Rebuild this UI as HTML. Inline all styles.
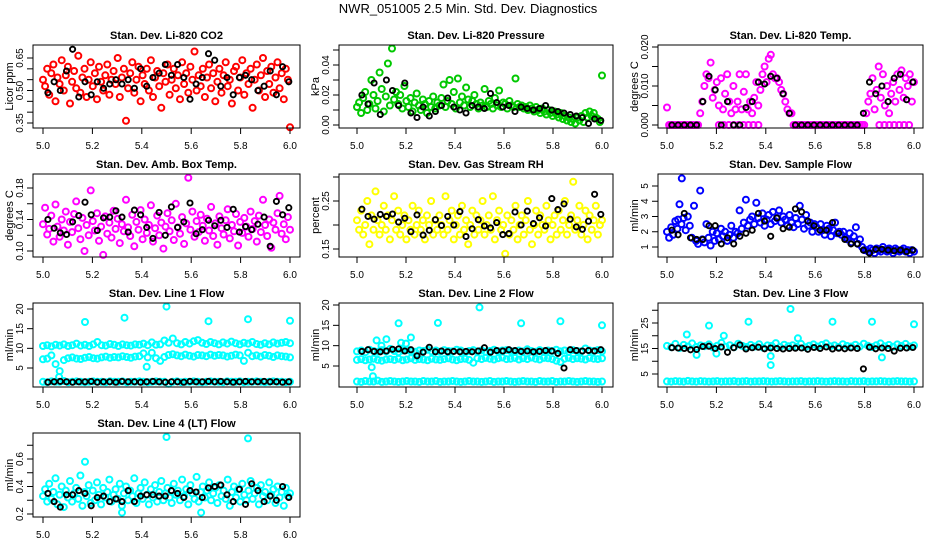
<!DOCTYPE html>
<html><head><meta charset="utf-8"><style>
body{margin:0;background:#fff;}
svg{display:block;font-family:"Liberation Sans",sans-serif;}
</style></head><body>
<svg id="chart" width="936" height="540" viewBox="0 0 936 540">
<rect x="0" y="0" width="936" height="540" fill="#fff"/>
<text x="468" y="13" text-anchor="middle" font-size="13">NWR_051005  2.5 Min. Std. Dev. Diagnostics</text>
</svg>
<script>
// ---------- data ----------
const xTicks=[5.0,5.2,5.4,5.6,5.8,6.0];
const xTickLabels=["5.0","5.2","5.4","5.6","5.8","6.0"];

const co2Red=[0.55,0.52,0.60,0.48,0.58,0.62,0.45,0.56,0.53,0.64,0.50,0.57,0.61,0.44,0.54,0.59,0.51,0.66,0.49,0.56,
0.60,0.47,0.55,0.63,0.52,0.58,0.46,0.61,0.54,0.50,0.57,0.62,0.48,0.55,0.59,0.53,0.65,0.47,0.56,0.60,
0.36,0.51,0.58,0.63,0.49,0.55,0.61,0.45,0.57,0.53,0.60,0.50,0.64,0.47,0.56,0.59,0.52,0.42,0.58,0.54,
0.62,0.48,0.55,0.60,0.51,0.57,0.46,0.63,0.53,0.58,0.49,0.61,0.55,0.68,0.50,0.57,0.52,0.60,0.47,0.56,
0.62,0.51,0.58,0.45,0.54,0.60,0.49,0.57,0.63,0.52,0.55,0.44,0.59,0.61,0.50,0.56,0.64,0.48,0.58,0.53,
0.60,0.42,0.55,0.62,0.50,0.57,0.65,0.47,0.59,0.53,0.61,0.49,0.56,0.63,0.51,0.58,0.46,0.60,0.55,0.33];
const co2Black=[0.49,0.54,0.50,0.59,0.69,0.47,0.54,0.48,0.54,0.51,0.53,0.55,0.53,0.55,0.51,0.60,0.52,0.56,0.58,0.62,0.57,0.62,0.56,0.46,0.53,0.56,0.67,0.64,0.52,0.56,0.48,0.56,0.57,0.55,0.50,0.52,0.59,0.48,0.61,0.54];
const co2Ticks=[0.35,0.40,0.45,0.50,0.55,0.60,0.65];
const co2TickLabels=["0.35","","","0.50","","","0.65"];

const presGreen=[0.012,0.015,0.008,0.018,0.022,0.010,0.014,0.030,0.020,0.011,0.016,0.035,0.024,0.009,0.019,0.041,0.013,0.051,0.017,0.022,
0.014,0.020,0.011,0.026,0.016,0.012,0.018,0.009,0.015,0.021,0.013,0.010,0.017,0.014,0.008,0.016,0.012,0.019,0.011,0.015,
0.013,0.018,0.027,0.012,0.016,0.030,0.014,0.022,0.011,0.031,0.015,0.019,0.013,0.025,0.017,0.012,0.016,0.020,0.014,0.011,
0.015,0.013,0.024,0.012,0.016,0.014,0.011,0.018,0.013,0.023,0.012,0.015,0.014,0.011,0.016,0.013,0.012,0.031,0.014,0.012,
0.013,0.011,0.012,0.010,0.013,0.011,0.009,0.012,0.010,0.008,0.011,0.009,0.007,0.010,0.008,0.006,0.009,0.007,0.005,0.008,
0.004,0.006,0.003,0.005,0.002,0.004,0.001,0.005,0.003,0.006,0.002,0.008,0.005,0.009,0.006,0.008,0.005,0.004,0.002,0.033];
const presBlack=[0.020,0.014,0.028,0.007,0.030,0.023,0.013,0.028,0.008,0.005,0.012,0.006,0.009,0.013,0.018,0.012,0.010,0.008,0.013,0.012,0.011,0.021,0.015,0.012,0.013,0.009,0.012,0.011,0.010,0.011,0.013,0.010,0.009,0.008,0.007,0.006,0.005,0.001,0.004,0.003];
const presTicks=[0,0.01,0.02,0.03,0.04,0.05];
const presTickLabels=["0.00","","0.02","","0.04",""];

const tempMag=[0.0045,0,0,0,0,0,0,0,0,0,0,0,0,0,0,0,
0.003,0.006,0.010,0.013,0.012,0.016,0.007,0.009,0.011,0.005,0.012,0.004,0.008,0.013,0.006,0.003,0.010,0.004,0.006,0.013,
0.004,0.0085,0.013,0.004,0.006,
0.003,0.007,0.011,0.005,0.009,0.013,0.015,0.011,0.017,0.018,0.013,0.012,0.012,0.011,0.009,0.008,0.006,0.004,0.003,0.003,
0,0,0,0,0,0,0,0,0,0,0,0,0,0,0,0,0,0,0,0,0,0,0,0,0,0,0,0,0,0,0,0,0,0,0,
0.003,0.006,0.008,0.012,0.004,0.009,0.015,0.007,0.013,0.005,0.010,0.003,0.008,0.011,0.006,0.013,0.009,0.014,0.007,0.012,0.010,0.013,0.006,0.011];
const tempZeroTimes=[5.21,5.23,5.25,5.27,5.29,5.31,5.33,5.35,5.37,5.86,5.88,5.90,5.92,5.94,5.96,5.98];
const tempZeroVals=[0,0,0,0,0,0,0,0,0,0,0,0,0,0,0,0];
const tempBlack=[0,0,0,0,0,0.006,0.0125,0.009,0,0.006,0,0,0.0045,0.006,0.011,0.0105,0.0125,0.012,0.008,0.003,0,0,0,0,0,0,0,0,0,0,0,0.003,0.011,0.008,0.010,0.006,0.012,0.013,0.0065,0.011];
const tempTicks=[0,0.005,0.010,0.015,0.020];
const tempTickLabels=["0.000","","0.010","","0.020"];

const ambMag=[0.134,0.155,0.121,0.128,0.145,0.112,0.159,0.131,0.118,0.140,0.126,0.150,0.108,0.137,0.124,0.147,0.163,0.129,0.115,0.142,
0.100,0.133,0.120,0.177,0.138,0.126,0.148,0.113,0.131,0.095,0.144,0.122,0.136,0.117,0.151,0.128,0.141,0.110,0.134,0.125,
0.165,0.130,0.119,0.146,0.106,0.137,0.127,0.152,0.115,0.140,0.123,0.133,0.158,0.112,0.129,0.145,0.120,0.136,0.103,0.131,
0.148,0.125,0.139,0.114,0.160,0.130,0.122,0.143,0.109,0.135,0.193,0.127,0.150,0.118,0.138,0.124,0.146,0.132,0.113,0.141,
0.126,0.156,0.119,0.135,0.108,0.144,0.129,0.121,0.139,0.153,0.116,0.133,0.125,0.147,0.107,0.137,0.123,0.142,0.131,0.118,
0.150,0.128,0.138,0.112,0.145,0.124,0.165,0.133,0.119,0.140,0.104,0.136,0.127,0.148,0.170,0.122,0.134,0.115,0.143,0.127];
const ambBlack=[0.140,0.129,0.123,0.121,0.137,0.145,0.162,0.146,0.126,0.142,0.143,0.151,0.143,0.124,0.152,0.146,0.130,0.116,0.149,0.120,0.156,0.130,0.137,0.161,0.122,0.127,0.139,0.132,0.139,0.130,0.153,0.124,0.131,0.127,0.134,0.143,0.106,0.163,0.146,0.155];
const ambTicks=[0.10,0.12,0.14,0.16,0.18];
const ambTickLabels=["0.10","","0.14","","0.18"];

const rhYellow=[0.21,0.19,0.23,0.18,0.20,0.25,0.16,0.22,0.19,0.27,0.21,0.18,0.20,0.24,0.19,0.22,0.17,0.21,0.26,0.19,
0.23,0.18,0.20,0.22,0.17,0.21,0.19,0.24,0.18,0.20,0.23,0.19,0.21,0.17,0.22,0.20,0.25,0.18,0.21,0.19,
0.22,0.20,0.18,0.26,0.19,0.21,0.23,0.17,0.20,0.22,0.18,0.24,0.19,0.21,0.16,0.20,0.23,0.18,0.22,0.19,
0.21,0.25,0.18,0.20,0.22,0.19,0.26,0.17,0.21,0.23,0.19,0.20,0.14,0.22,0.18,0.21,0.19,0.24,0.17,0.20,
0.22,0.18,0.21,0.25,0.19,0.16,0.20,0.23,0.18,0.22,0.20,0.19,0.24,0.21,0.17,0.20,0.22,0.18,0.23,0.19,
0.21,0.25,0.18,0.20,0.22,0.29,0.19,0.21,0.24,0.18,0.20,0.23,0.17,0.22,0.19,0.21,0.24,0.18,0.20,0.21];
const rhBlack=[0.233,0.218,0.212,0.222,0.218,0.223,0.206,0.214,0.186,0.221,0.179,0.189,0.211,0.199,0.218,0.200,0.228,0.176,0.192,0.211,0.198,0.194,0.205,0.180,0.182,0.227,0.200,0.229,0.203,0.215,0.198,0.255,0.232,0.244,0.212,0.196,0.191,0.208,0.264,0.222];
const rhTicks=[0.15,0.20,0.25,0.30];
const rhTickLabels=["0.15","","0.25",""];

const flowBlue=[2.0,1.6,2.3,1.8,2.7,2.2,3.8,2.5,2.9,2.1,3.0,2.4,
1.6,3.7,1.4,1.2,4.7,1.5,1.3,2.5,1.6,1.1,2.0,1.4,
1.9,1.5,2.2,1.7,2.0,1.4,1.8,2.4,1.6,2.0,1.9,3.4,
2.2,2.6,4.1,2.4,2.8,3.0,2.5,3.9,2.9,2.6,3.2,2.4,
2.8,3.1,2.5,3.3,2.7,2.9,3.4,2.6,3.0,2.8,2.4,3.1,
2.6,2.3,2.9,2.5,3.7,2.8,2.2,3.1,2.4,2.6,2.0,2.5,
2.3,2.0,2.5,2.1,1.8,2.4,2.2,1.7,2.1,2.6,1.9,2.0,
1.8,2.0,1.6,1.5,1.9,1.3,1.7,2.3,1.2,1.5,1.0,0.8,
0.8,0.7,0.9,0.8,0.6,0.9,0.8,0.7,1.0,0.8,0.7,0.9,0.8,0.6,0.9,0.8,0.7,0.8,0.9,0.7,0.8,0.6,0.8,0.7];
const flowBlueOutT=[5.06,5.045];
const flowBlueOutV=[5.5,2.8];
const flowBlack=[2.1,1.8,3.2,1.6,1.5,1.5,2.4,2.4,1.2,1.6,1.2,1.7,1.9,2.1,3.2,2.7,1.7,2.9,2.2,2.3,
3.5,3.3,2.7,2.4,2.1,2.1,2.6,1.9,1.5,1.2,1.2,0.8,0.6,0.85,0.85,0.8,0.75,0.8,0.7,0.8];
const flowTicks=[1,2,3,4,5];
const flowTickLabels=["1","2","3","4","5"];

const l1High=[10.6,10.8,10.5,10.9,10.7,11.0,10.6,10.8,11.2,10.7,10.9,10.6,11.0,11.6,10.8,10.7,11.1,10.9,10.6,11.0,10.8,10.7,11.0,10.9,11.2,10.8,11.5,10.9,11.0,12.0,11.4,12.5,11.3,11.0,11.6,11.2,11.8,12.1,11.4,11.1,11.6,11.3,11.0,11.5,11.2,11.7,11.3,11.0,11.4,11.2,11.6,11.1,10.9,11.3,11.0,11.5,11.2,11.4,11.6,11.3];
const l1Mid=[7.2,7.4,8.2,6.0,4.2,7.0,7.5,7.7,7.4,7.3,7.6,7.8,7.5,7.4,7.7,7.9,7.6,7.8,7.7,8.0,7.8,7.6,7.9,8.0,8.7,7.7,8.9,7.5,6.8,7.8,8.3,8.5,8.2,8.0,8.4,8.1,7.9,8.3,8.2,8.0,8.4,8.1,8.3,8.2,7.9,8.1,8.4,8.2,6.8,8.9,8.0,8.2,7.9,8.3,8.1,7.8,8.2,8.0,7.9,7.7];
const l1Low=[1.5,1.4,1.6,1.5,1.5,1.7,1.4,1.5,1.6,1.5,1.4,1.5,1.6,1.5,1.5,1.4,1.6,1.5,1.5,1.6,1.4,1.5,1.5,1.6,1.5,1.4,1.5,1.6,1.5,1.5,1.0,1.5,1.6,1.4,1.5,1.5,1.6,1.5,1.4,1.5,1.6,1.5,1.5,1.4,1.6,1.5,1.5,1.6,1.4,1.5,1.5,1.6,1.5,1.4,1.5,1.6,1.5,1.5,1.4,1.5];
const l1OutT=[5.17,5.33,5.5,5.67,5.83,6.0,5.42,5.065];
const l1OutV=[16.7,17.8,20.6,16.9,17.4,17.0,5.3,2.7];
const l1Black=[1.4,1.5,1.6,1.5,1.4,1.5,1.5,1.6,1.4,1.5,1.5,1.4,1.6,1.5,1.5,1.4,1.5,1.6,1.5,1.4,1.5,1.5,1.4,1.6,1.5,1.5,1.6,1.5,1.6,1.5,1.4,1.5,1.6,1.5,1.5,1.6,1.5,1.5,1.4,1.5];
const l1Ticks=[5,10,15,20];
const l1TickLabels=["5","10","15","20"];

const l2High=[8.6,8.8,8.4,9.0,8.7,8.5,8.9,8.6,9.2,8.7,8.4,8.8,8.9,8.6,8.5,8.8,8.7,9.0,8.6,8.8,8.5,8.9,8.7,8.6,9.0,8.8,8.4,8.7,8.9,8.6,8.8,8.5,8.7,9.0,8.6,8.8,8.9,8.7,8.5,8.8,8.6,9.1,8.7,8.5,8.9,8.6,8.8,8.7,9.0,8.6,8.8,8.5,8.9,8.7,8.6,9.3,8.8,8.7,8.9,8.6];
const l2Mid=[6.5,6.7,6.4,6.6,6.8,6.5,6.3,6.6,6.7,6.5,6.8,6.4,6.6,6.9,6.5,6.7,6.6,6.4,6.8,6.6,6.5,6.7,6.9,6.6,6.4,6.7,6.8,6.5,5.8,6.9,6.7,7.0,6.8,6.6,6.9,7.1,6.7,6.8,7.0,6.6,6.9,6.7,7.1,6.8,6.6,7.0,6.9,6.7,6.3,6.0,6.8,7.0,6.7,6.9,6.8,6.6,7.0,6.8,6.7,6.9];
const l2Low=[1.2,1.1,1.3,1.2,1.2,1.4,1.1,1.2,1.3,1.2,1.1,1.2,1.3,1.2,1.2,1.1,1.3,1.2,1.2,1.3,1.1,1.2,1.2,1.3,1.2,1.1,1.2,1.3,1.2,1.2,1.1,1.2,1.3,1.1,1.2,1.2,1.3,1.2,1.1,1.2,1.3,1.2,1.2,1.1,1.3,1.2,1.2,1.3,1.1,1.2,1.2,1.3,1.2,1.1,1.2,1.3,1.2,1.2,1.1,1.2];
const l2OutT=[5.17,5.33,5.5,5.67,5.83,6.0,5.08,5.12,5.2,5.22,5.06,5.065,5.1,5.18];
const l2OutV=[15.5,15.6,19.4,15.5,16.0,15.0,11.3,11.6,10.5,12.0,4.7,2.5,10.0,10.7];
const l2Black=[8.6,9.0,8.6,8.5,8.7,9.1,9.2,8.7,9.0,7.5,8.4,9.6,8.5,8.7,8.5,8.6,8.5,8.6,8.5,8.7,9.5,8.4,8.8,8.7,9.0,8.8,8.6,8.7,8.5,8.6,8.8,8.7,8.1,4.5,9.0,8.8,8.7,8.8,8.7,9.0];
const l2Ticks=[5,10,15,20];
const l2TickLabels=["5","10","15","20"];

const l3High=[16.0,15.5,16.8,15.2,16.4,15.8,17.0,15.6,16.2,15.9,16.6,15.4,16.1,17.2,15.7,16.3,15.5,16.9,16.0,15.6,16.4,15.8,16.7,15.3,16.2,16.0,17.1,15.6,16.5,15.9,16.3,15.7,16.8,15.5,16.1,16.6,15.8,16.4,17.0,15.9,16.2,15.6,16.7,16.0,15.8,16.5,15.7,16.9,16.1,15.6,16.3,17.0,15.9,16.4,15.7,16.6,16.0,16.8,15.8,16.2];
const l3Low=[2.1,2.0,2.2,2.1,2.0,2.3,2.1,2.0,2.2,2.1,2.0,2.1,2.2,2.0,2.1,2.1,2.2,2.0,2.1,2.2,2.0,2.1,2.1,2.2,2.1,2.0,2.1,2.2,2.1,2.0,2.1,2.1,2.2,2.0,2.1,2.1,2.2,2.1,2.0,2.1,2.2,2.1,2.1,2.0,2.2,2.1,2.1,2.2,2.0,2.1,2.1,2.2,2.1,2.0,2.1,2.2,2.1,2.1,2.0,2.1];
const l3OutT=[5.08,5.17,5.23,5.33,5.42,5.42,5.5,5.53,5.67,5.83,5.87,6.0,5.12,5.2];
const l3OutV=[20.5,24.0,20.0,25.5,8.5,12.0,30.5,19.0,25.5,25.5,11.5,24.5,12.5,13.0];
const l3Black=[15.3,15.2,15.0,14.5,14.6,15.8,15.9,15.0,15.6,13.5,15.3,16.4,14.8,15.3,15.5,14.9,15.2,15.0,14.8,15.0,15.1,15.2,14.7,15.4,15.0,15.6,14.8,15.1,14.9,15.2,15.0,7.0,15.5,14.9,15.2,15.0,14.0,15.1,15.2,15.4];
const l3Ticks=[5,10,15,20,25,30];
const l3TickLabels=["5","","15","","25",""];

const l4Cyan=[0.33,0.38,0.29,0.42,0.31,0.36,0.46,0.27,0.34,0.40,0.25,0.37,0.32,0.44,0.29,0.35,0.39,0.31,0.48,0.26,
0.36,0.33,0.41,0.28,0.37,0.30,0.43,0.34,0.27,0.39,0.32,0.36,0.45,0.29,0.34,0.38,0.31,0.42,0.26,0.35,
0.40,0.30,0.37,0.33,0.46,0.28,0.35,0.39,0.31,0.43,0.34,0.27,0.38,0.32,0.41,0.29,0.36,0.44,0.30,0.35,
0.39,0.32,0.28,0.42,0.34,0.37,0.30,0.45,0.33,0.38,0.27,0.41,0.35,0.31,0.47,0.29,0.36,0.40,0.32,0.37,
0.43,0.30,0.35,0.39,0.28,0.41,0.33,0.37,0.31,0.45,0.26,0.36,0.40,0.32,0.38,0.29,0.42,0.34,0.30,0.37,
0.44,0.31,0.35,0.39,0.27,0.41,0.33,0.36,0.30,0.43,0.34,0.38,0.28,0.40,0.32,0.36,0.26,0.39,0.33,0.35];
const l4OutT=[5.17,5.5,5.83,5.32,5.64];
const l4OutV=[0.58,0.76,0.75,0.21,0.21];
const l4Black=[0.35,0.29,0.25,0.34,0.34,0.37,0.35,0.26,0.32,0.33,0.29,0.31,0.29,0.37,0.29,0.33,0.34,0.34,0.33,0.33,0.37,0.35,0.32,0.37,0.36,0.32,0.39,0.40,0.41,0.34,0.29,0.38,0.27,0.42,0.37,0.29,0.33,0.30,0.40,0.32];
const l4Ticks=[0.2,0.3,0.4,0.5,0.6,0.7];
const l4TickLabels=["0.2","","0.4","","0.6",""];

// ---------- layout ----------
const colBox=[[33,300],[339,613],[658,923]];
const colX=[[43,290],[357,602],[667,914]];
const rowBox=[[45,128],[174,257],[303,387],[433,517]];
const NS="http://www.w3.org/2000/svg";
const svg=document.getElementById('chart');
function mk(tag,attrs,parent){const e=document.createElementNS(NS,tag);for(const k in attrs)e.setAttribute(k,attrs[k]);(parent||svg).appendChild(e);return e;}

const panels=[
 {name:"co2",title:"Stan. Dev. Li-820 CO2",ylab:"Licor ppm",c:0,r:0,a:[0.35,123,0.65,58],ticks:co2Ticks,labels:co2TickLabels,
  series:[{v:co2Red,col:"#ff0000"},{v:co2Black,col:"#000",black:true}]},
 {name:"pressure",title:"Stan. Dev. Li-820 Pressure",ylab:"kPa",c:1,r:0,a:[0,125,0.04,65],ticks:presTicks,labels:presTickLabels,
  series:[{v:presGreen,col:"#00c800"},{v:presBlack,col:"#000",black:true}]},
 {name:"li820-temp",title:"Stan. Dev. Li-820 Temp.",ylab:"degrees C",c:2,r:0,a:[0,125,0.020,47],ticks:tempTicks,labels:tempTickLabels,
  series:[{v:tempMag,col:"#ff00ff"},{t:tempZeroTimes,v:tempZeroVals,col:"#ff00ff"},{v:tempBlack,col:"#000",black:true}]},
 {name:"amb-box-temp",title:"Stan. Dev. Amb. Box Temp.",ylab:"degrees C",c:0,r:1,a:[0.10,251,0.18,188],ticks:ambTicks,labels:ambTickLabels,
  series:[{v:ambMag,col:"#ff00ff"},{v:ambBlack,col:"#000",black:true}]},
 {name:"gas-stream-rh",title:"Stan. Dev. Gas Stream RH",ylab:"percent",c:1,r:1,a:[0.15,249,0.25,201],ticks:rhTicks,labels:rhTickLabels,
  series:[{v:rhYellow,col:"#ffff00"},{v:rhBlack,col:"#000",black:true}]},
 {name:"sample-flow",title:"Stan. Dev. Sample Flow",ylab:"ml/min",c:2,r:1,a:[1,247,5,186],ticks:flowTicks,labels:flowTickLabels,
  series:[{v:flowBlue,col:"#0000ff"},{t:flowBlueOutT,v:flowBlueOutV,col:"#0000ff"},{v:flowBlack,col:"#000",black:true}]},
 {name:"line1-flow",title:"Stan. Dev. Line 1 Flow",ylab:"ml/min",c:0,r:2,a:[5,368,20,309],ticks:l1Ticks,labels:l1TickLabels,
  series:[{v:l1High,col:"#00ffff"},{v:l1Mid,col:"#00ffff"},{v:l1Low,col:"#00ffff"},{t:l1OutT,v:l1OutV,col:"#00ffff"},{v:l1Black,col:"#000",black:true}]},
 {name:"line2-flow",title:"Stan. Dev. Line 2 Flow",ylab:"ml/min",c:1,r:2,a:[5,366,20,305],ticks:l2Ticks,labels:l2TickLabels,
  series:[{v:l2High,col:"#00ffff"},{v:l2Mid,col:"#00ffff"},{v:l2Low,col:"#00ffff"},{t:l2OutT,v:l2OutV,col:"#00ffff"},{v:l2Black,col:"#000",black:true}]},
 {name:"line3-flow",title:"Stan. Dev. Line 3 Flow",ylab:"ml/min",c:2,r:2,a:[5,374,25,323],ticks:l3Ticks,labels:l3TickLabels,
  series:[{v:l3High,col:"#00ffff"},{v:l3Low,col:"#00ffff"},{t:l3OutT,v:l3OutV,col:"#00ffff"},{v:l3Black,col:"#000",black:true}]},
 {name:"line4-flow",title:"Stan. Dev. Line 4 (LT) Flow",ylab:"ml/min",c:0,r:3,a:[0.2,514,0.6,459],ticks:l4Ticks,labels:l4TickLabels,
  series:[{v:l4Cyan,col:"#00ffff"},{t:l4OutT,v:l4OutV,col:"#00ffff"},{v:l4Black,col:"#000",black:true}]}
];

panels.forEach(p=>{
  const [bl,br]=colBox[p.c],[bt,bb]=rowBox[p.r],[x5,x6]=colX[p.c];
  const xs=t=>x5+(t-5)*(x6-x5);
  const ys=v=>p.a[1]+(v-p.a[0])*(p.a[3]-p.a[1])/(p.a[2]-p.a[0]);
  const g=mk('g',{});
  
  
  const ti=mk('text',{x:(bl+br)/2,y:bt-6,'text-anchor':'middle','font-size':11,'font-weight':'bold'},g);
  ti.textContent=p.title;
  
  
  const pg=mk('g',{},g);
  
  
  p.series.forEach(s=>{
    const n=s.v.length;
    s.v.forEach((v,i)=>{
      let t;
      if(s.t) t=s.t[i];
      else if(s.black) t=5.02+i*(5.995-5.02)/(n-1);
      else t=5.0+i/(n-1);
      const c=mk('circle',{cx:xs(t).toFixed(1),cy:ys(v).toFixed(1),r:s.black?2.6:3,fill:'none',stroke:s.col,'stroke-width':s.black?1.9:2},pg);
      
      
    });
  });
  const box=mk('rect',{x:bl,y:bt,width:br-bl,height:bb-bt,fill:'none',stroke:'#000','stroke-width':1},g);
  
  
  const xa=mk('g',{},g);
  
  
  mk('line',{x1:xs(xTicks[0]),x2:xs(xTicks[xTicks.length-1]),y1:bb,y2:bb,stroke:'#000'},xa);
  xTicks.forEach((t,i)=>{
    mk('line',{x1:xs(t),x2:xs(t),y1:bb,y2:bb+6,stroke:'#000'},xa);
    const tx=mk('text',{x:xs(t),y:bb+21,'text-anchor':'middle','font-size':10},xa);
    tx.textContent=xTickLabels[i];
  });
  const ya=mk('g',{},g);
  
  
  p.ticks.forEach((v,i)=>{
    const y=ys(v);
    mk('line',{x1:bl-6,x2:bl,y1:y,y2:y,stroke:'#000'},ya);
    if(p.labels[i]){
      const tx=mk('text',{x:0,y:0,'text-anchor':'middle','font-size':10,transform:`translate(${bl-10},${y}) rotate(-90)`},ya);
      tx.textContent=p.labels[i];
    }
  });
  const yl=mk('text',{x:0,y:0,'text-anchor':'middle','font-size':11,transform:`translate(${bl-20},${(bt+bb)/2}) rotate(-90)`},g);
  yl.textContent=p.ylab;
  
  
});
</script>
</body></html>
